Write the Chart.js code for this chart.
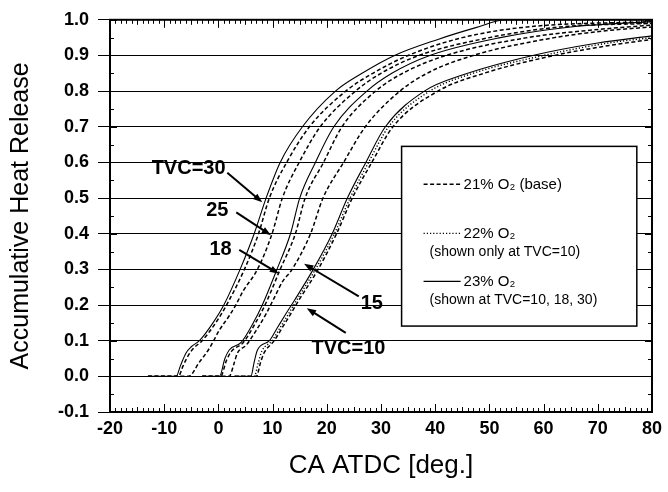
<!DOCTYPE html>
<html lang="en">
<head>
<meta charset="UTF-8">
<title>Accumulative Heat Release vs CA ATDC</title>
<script src="https://cdn.jsdelivr.net/npm/chart.js"></script>
<style>
  * { margin: 0; padding: 0; box-sizing: border-box; }
  body { width: 668px; height: 492px; background: #fff; overflow: hidden; }
  #wrap { position: relative; width: 668px; height: 492px; }
</style>
</head>
<body>
<div id="wrap"><canvas id="chartCanvas"></canvas></div>
<script>
  // crank angle [deg ATDC] and accumulative heat release
  // 21% O2 (base), dashed
  const tvc30_o21_ca = [-13, -7.4, -6.5, -5.5, -4.5, -3.0, -0.5, 1.5, 4.8, 7.4, 9.4, 12.6, 16.8, 23.5, 28.5, 35, 45, 57, 80];
  const tvc30_o21_hr = [0, 0, 0.03, 0.06, 0.08, 0.1, 0.15, 0.2, 0.3, 0.4, 0.5, 0.6, 0.7, 0.8, 0.85, 0.9, 0.95, 0.98, 0.995];
  const tvc25_o21_ca = [-13, -5.5, -3.5, -1.6, 0.2, 2.0, 3.2, 4.6, 7.2, 9.9, 11.8, 14.9, 18.8, 25.3, 30, 37, 50, 63, 80];
  const tvc25_o21_hr = [0, 0, 0.04, 0.08, 0.13, 0.17, 0.2, 0.24, 0.3, 0.4, 0.5, 0.6, 0.7, 0.8, 0.85, 0.9, 0.95, 0.98, 0.99];
  const tvc18_o21_ca = [-3, 0.4, 1.5, 2.4, 4.6, 6.7, 8.6, 11.4, 14.2, 16.0, 19.4, 22.8, 29, 34, 42, 57, 68, 80];
  const tvc18_o21_hr = [0, 0, 0.045, 0.07, 0.095, 0.146, 0.2, 0.3, 0.4, 0.5, 0.6, 0.7, 0.8, 0.85, 0.9, 0.95, 0.97, 0.985];
  const tvc15_o21_ca = [-3, 2.0, 2.9, 3.5, 5.1, 6.9, 8.75, 10.3, 11.8, 13.6, 17.0, 19.3, 23.1, 27.1, 33.5, 38.5, 47, 62, 72, 80];
  const tvc15_o21_hr = [0, 0, 0.037, 0.065, 0.087, 0.127, 0.174, 0.22, 0.265, 0.3, 0.4, 0.5, 0.6, 0.7, 0.8, 0.85, 0.9, 0.95, 0.97, 0.98];
  const tvc10_o21_ca = [3, 7.0, 7.8, 8.4, 10.3, 11.8, 13.3, 14.7, 18.4, 21.8, 24.7, 28.3, 32.2, 40.5, 49, 62, 73, 80];
  const tvc10_o21_hr = [0, 0, 0.04, 0.065, 0.1, 0.137, 0.174, 0.21, 0.3, 0.4, 0.5, 0.6, 0.7, 0.8, 0.85, 0.9, 0.93, 0.945];
  // 22% O2, dotted (TVC=10 only)
  const tvc10_o22_ca = [3, 6.6, 7.4, 8.0, 9.9, 11.4, 12.9, 14.3, 17.9, 21.4, 24.3, 27.7, 31.4, 39, 47, 60, 72, 80];
  const tvc10_o22_hr = [0, 0, 0.04, 0.07, 0.1, 0.137, 0.174, 0.21, 0.3, 0.4, 0.5, 0.6, 0.7, 0.8, 0.85, 0.9, 0.935, 0.95];
  // 23% O2, solid (TVC=10, 18, 30)
  const tvc30_o23_ca = [-13, -7.8, -7.0, -6.0, -5.0, -3.5, -1.0, 1.0, 4.0, 6.6, 8.8, 11.4, 15.5, 21.6, 26.5, 32.5, 40.5, 47.5, 53, 80];
  const tvc30_o23_hr = [0, 0, 0.03, 0.065, 0.083, 0.1, 0.15, 0.2, 0.3, 0.4, 0.5, 0.6, 0.7, 0.8, 0.85, 0.9, 0.945, 0.978, 1.0, 1.0];
  const tvc18_o23_ca = [-3, 0.2, 1.2, 2.0, 4.2, 6.3, 8.1, 10.8, 13.3, 15.0, 17.9, 21.3, 27.4, 32, 39, 52, 65, 80];
  const tvc18_o23_hr = [0, 0, 0.05, 0.074, 0.095, 0.146, 0.2, 0.3, 0.4, 0.5, 0.6, 0.7, 0.8, 0.85, 0.9, 0.95, 0.98, 0.995];
  const tvc10_o23_ca = [3, 6.0, 6.6, 7.2, 9.4, 10.9, 12.4, 13.9, 17.5, 21.0, 23.8, 27.2, 30.8, 38, 45, 58, 70, 80];
  const tvc10_o23_hr = [0, 0, 0.04, 0.074, 0.1, 0.137, 0.174, 0.21, 0.3, 0.4, 0.5, 0.6, 0.7, 0.8, 0.845, 0.9, 0.935, 0.955];

  const xTicks = [-20, -10, 0, 10, 20, 30, 40, 50, 60, 70, 80];
  const yTicks = [-0.1, 0.0, 0.1, 0.2, 0.3, 0.4, 0.5, 0.6, 0.7, 0.8, 0.9, 1.0];
  const tvcLabels = ['TVC=30', '25', '18', '15', 'TVC=10'];
  const legendMain = ['21% O\u2082 (base)', '22% O\u2082', '23% O\u2082'];
  const legendNote = ['', '(shown only at TVC=10)', '(shown at TVC=10, 18, 30)'];

  const FONT = '"Liberation Sans", Arial, Helvetica, sans-serif';
  const DASH = [4, 2.5];
  const DOT = [1.2, 2];

  function toPoints(ca, hr) {
    return ca.map((c, i) => ({x: c, y: hr[i]}));
  }

  function curve(label, ca, hr, dash, width) {
    return {
      label: label,
      data: toPoints(ca, hr),
      borderColor: '#000',
      borderWidth: width,
      borderDash: dash,
      pointRadius: 0,
      fill: false,
      cubicInterpolationMode: 'monotone',
      showLine: true
    };
  }

  // frame and inward tick marks (minor ticks too)
  const plotFrame = {
    id: 'plotFrame',
    afterDraw(chart) {
      const {ctx, chartArea: a, scales: {x, y}} = chart;
      ctx.save();
      ctx.strokeStyle = '#000';
      ctx.lineWidth = 1;
      ctx.beginPath();
      for (let v = -20; v <= 80; v++) {
        const px = Math.round(x.getPixelForValue(v)) + 0.5;
        const len = v % 10 === 0 ? 8 : (v % 5 === 0 ? 5 : 4);
        ctx.moveTo(px, a.bottom); ctx.lineTo(px, a.bottom - len);
        ctx.moveTo(px, a.top); ctx.lineTo(px, a.top + len);
      }
      for (let i = 0; i <= 22; i++) {
        const py = Math.round(y.getPixelForValue(-0.1 + i * 0.05)) + 0.5;
        const len = i % 2 === 0 ? 7 : 4;
        ctx.moveTo(a.left, py); ctx.lineTo(a.left + len, py);
        ctx.moveTo(a.right, py); ctx.lineTo(a.right - len, py);
      }
      ctx.stroke();
      ctx.lineWidth = 2;
      ctx.strokeRect(a.left, a.top, a.right - a.left, a.bottom - a.top);
      ctx.restore();
    }
  };

  // TVC labels with arrows, anchored in data units
  const tvcNotes = {
    id: 'tvcNotes',
    afterDatasetsDraw(chart) {
      const {ctx, scales: {x, y}} = chart;
      const at = [[-5.5, 0.582], [-0.2, 0.465], [0.4, 0.355], [28.3, 0.205], [24.0, 0.078]];
      const from = [[1.65, 0.571], [3.3, 0.46], [3.85, 0.355], [25.9, 0.224], [23.5, 0.122]];
      const to = [[8.1, 0.488], [9.7, 0.396], [11.2, 0.288], [15.8, 0.316], [16.3, 0.191]];
      ctx.save();
      ctx.fillStyle = '#000';
      ctx.strokeStyle = '#000';
      ctx.font = 'bold 20px ' + FONT;
      ctx.textAlign = 'center';
      ctx.textBaseline = 'middle';
      tvcLabels.forEach((t, i) => {
        ctx.fillText(t, x.getPixelForValue(at[i][0]), y.getPixelForValue(at[i][1]));
        const x0 = x.getPixelForValue(from[i][0]), y0 = y.getPixelForValue(from[i][1]);
        const x1 = x.getPixelForValue(to[i][0]), y1 = y.getPixelForValue(to[i][1]);
        const ang = Math.atan2(y1 - y0, x1 - x0);
        ctx.lineWidth = 2;
        ctx.beginPath();
        ctx.moveTo(x0, y0);
        ctx.lineTo(x1 - 6 * Math.cos(ang), y1 - 6 * Math.sin(ang));
        ctx.stroke();
        ctx.beginPath();
        ctx.moveTo(x1, y1);
        ctx.lineTo(x1 - 10 * Math.cos(ang - 0.35), y1 - 10 * Math.sin(ang - 0.35));
        ctx.lineTo(x1 - 10 * Math.cos(ang + 0.35), y1 - 10 * Math.sin(ang + 0.35));
        ctx.closePath();
        ctx.fill();
      });
      ctx.restore();
    }
  };

  const legendBox = {
    id: 'legendBox',
    afterDatasetsDraw(chart) {
      const {ctx, scales: {x, y}} = chart;
      const L = x.getPixelForValue(33.8), R = x.getPixelForValue(77.2);
      const T = y.getPixelForValue(0.645), B = y.getPixelForValue(0.141);
      const rows = [38, 87, 135];
      const dashes = [DASH, DOT, []];
      const widths = [1.5, 1.4, 1.2];
      ctx.save();
      ctx.fillStyle = '#fff';
      ctx.fillRect(L, T, R - L, B - T);
      ctx.strokeStyle = '#000';
      ctx.lineWidth = 1.5;
      ctx.strokeRect(L, T, R - L, B - T);
      ctx.fillStyle = '#000';
      ctx.textBaseline = 'middle';
      ctx.textAlign = 'left';
      rows.forEach((r, i) => {
        ctx.lineWidth = widths[i];
        ctx.setLineDash(dashes[i]);
        ctx.beginPath();
        ctx.moveTo(L + 22, T + r);
        ctx.lineTo(L + 59, T + r);
        ctx.stroke();
        ctx.setLineDash([]);
        ctx.font = '15px ' + FONT;
        ctx.fillText(legendMain[i], L + 62, T + r);
        if (legendNote[i]) {
          ctx.font = '14px ' + FONT;
          ctx.fillText(legendNote[i], L + 28, T + r + 19);
        }
      });
      ctx.restore();
    }
  };

  const ctx = document.getElementById('chartCanvas').getContext('2d');
  new Chart(ctx, {
    type: 'scatter',
    data: {
      datasets: [
        curve('TVC=30, 21% O2', tvc30_o21_ca, tvc30_o21_hr, DASH, 1.5),
        curve('TVC=25, 21% O2', tvc25_o21_ca, tvc25_o21_hr, DASH, 1.5),
        curve('TVC=18, 21% O2', tvc18_o21_ca, tvc18_o21_hr, DASH, 1.5),
        curve('TVC=15, 21% O2', tvc15_o21_ca, tvc15_o21_hr, DASH, 1.5),
        curve('TVC=10, 21% O2', tvc10_o21_ca, tvc10_o21_hr, DASH, 1.5),
        curve('TVC=10, 22% O2', tvc10_o22_ca, tvc10_o22_hr, DOT, 1.4),
        curve('TVC=30, 23% O2', tvc30_o23_ca, tvc30_o23_hr, [], 1.1),
        curve('TVC=18, 23% O2', tvc18_o23_ca, tvc18_o23_hr, [], 1.1),
        curve('TVC=10, 23% O2', tvc10_o23_ca, tvc10_o23_hr, [], 1.1)
      ]
    },
    options: {
      responsive: true,
      maintainAspectRatio: false,
      animation: false,
      layout: {padding: {top: 15, right: 13, left: 0, bottom: 0}},
      plugins: {legend: {display: false}, tooltip: {enabled: false}},
      scales: {
        x: {
          type: 'linear',
          min: -20,
          max: 80,
          afterFit: (s) => { s.height = 80; },
          afterBuildTicks: (s) => { s.ticks = xTicks.map(v => ({value: v})); },
          grid: {display: false, drawTicks: false},
          border: {display: false},
          ticks: {
            color: '#000',
            padding: 6,
            maxRotation: 0,
            font: {family: FONT, size: 18, weight: 'bold'},
            callback: (v) => String(v)
          },
          title: {
            display: true,
            text: 'CA ATDC [deg.]',
            color: '#000',
            font: {family: FONT, size: 26},
            padding: {top: 0, bottom: 11}
          }
        },
        y: {
          type: 'linear',
          min: -0.1,
          max: 1.0,
          afterFit: (s) => { s.width = 110; },
          afterBuildTicks: (s) => { s.ticks = yTicks.map(v => ({value: v})); },
          grid: {color: '#000', lineWidth: 1, drawTicks: true, tickLength: 12, tickColor: '#000'},
          border: {display: false},
          ticks: {
            color: '#000',
            padding: 9,
            font: {family: FONT, size: 18, weight: 'bold'},
            callback: (v) => (Math.abs(v) < 1e-9 ? 0 : v).toFixed(1)
          },
          title: {
            display: true,
            text: 'Accumulative Heat Release',
            color: '#000',
            font: {family: FONT, size: 25},
            padding: {top: 6, bottom: 0}
          }
        }
      }
    },
    plugins: [plotFrame, tvcNotes, legendBox]
  });
</script>
</body>
</html>
